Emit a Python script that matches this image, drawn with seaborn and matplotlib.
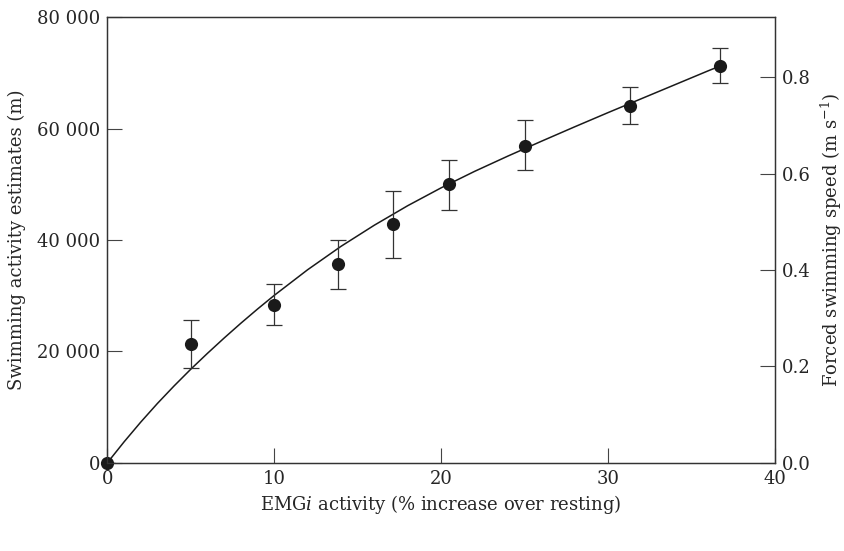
import matplotlib
matplotlib.use("Agg")
import matplotlib.pyplot as plt
import matplotlib.ticker as mticker
import seaborn as sns

# data
emg = [0, 5.0, 10.0, 13.8, 17.1, 20.5, 25.0, 31.3, 36.7]
activity = [0, 21300, 28400, 35600, 42800, 50000, 56900, 64100, 71200]
err_low = [0, 4200, 3600, 4400, 6100, 4600, 4400, 3200, 3000]
err_high = [0, 4400, 3700, 4400, 6000, 4400, 4600, 3400, 3300]

# fitted curve as drawn in the figure
fit_x = [0, 1, 2, 3, 4, 5, 6, 7, 8, 9, 10, 12, 14, 16, 18, 20,
         22, 24, 26, 28, 30, 32, 34, 36, 36.7]
fit_y = [0, 3750, 7300, 10650, 13800, 16800, 19650, 22400, 25050, 27600,
         30050, 34650, 38850, 42650, 46150, 49350, 52300, 55050, 57700,
         60300, 62850, 65350, 67850, 70350, 71200]

right_ticks = [0.0, 0.2, 0.4, 0.6, 0.8]

sns.set_style("ticks")
plt.rcParams["font.family"] = ["DejaVu Serif"]
plt.rcParams["mathtext.fontset"] = "dejavuserif"

fig = plt.figure(figsize=(8.45, 5.51), dpi=100)
ax = fig.add_axes([0.127, 0.160, 0.790, 0.809])

ink = "#1a1a1a"
sns.lineplot(x=fit_x, y=fit_y, ax=ax, color=ink, linewidth=1.1, zorder=2)
ax.errorbar(emg, activity, yerr=[err_low, err_high], fmt="none",
            ecolor="#333333", elinewidth=0.9, capsize=5.8, capthick=0.9, zorder=3)
sns.scatterplot(x=emg, y=activity, ax=ax, color=ink, s=90, edgecolor=ink,
                linewidth=0, zorder=4, clip_on=False)

ax.set_xlim(0, 40)
ax.set_ylim(0, 80000)
ax.set_xticks([0, 10, 20, 30, 40])
ax.set_yticks([0, 20000, 40000, 60000, 80000])
ax.yaxis.set_major_formatter(
    mticker.FuncFormatter(lambda v, p: f"{v:,.0f}".replace(",", " ")))
ax.tick_params(direction="in", length=11, width=0.8, labelsize=13, pad=5,
               color="#444444", right=False, top=False)
ax.set_xlabel(r"EMG$\mathit{i}$ activity (% increase over resting)", fontsize=13)
ax.set_ylabel("Swimming activity estimates (m)", fontsize=13, labelpad=8)

ax2 = ax.twinx()
ax2.set_ylim(0, 0.925)
ax2.set_yticks(right_ticks)
ax2.yaxis.set_major_formatter(mticker.FormatStrFormatter("%.1f"))
ax2.tick_params(direction="in", length=11, width=0.8, labelsize=13, pad=5,
                color="#444444")
ax2.set_ylabel(r"Forced swimming speed (m s$^{-1}$)", fontsize=13, labelpad=6)

for a in (ax, ax2):
    for s in a.spines.values():
        s.set_visible(True)
        s.set_linewidth(0.9)
        s.set_color("#333333")

fig.savefig("out.png", dpi=100)
